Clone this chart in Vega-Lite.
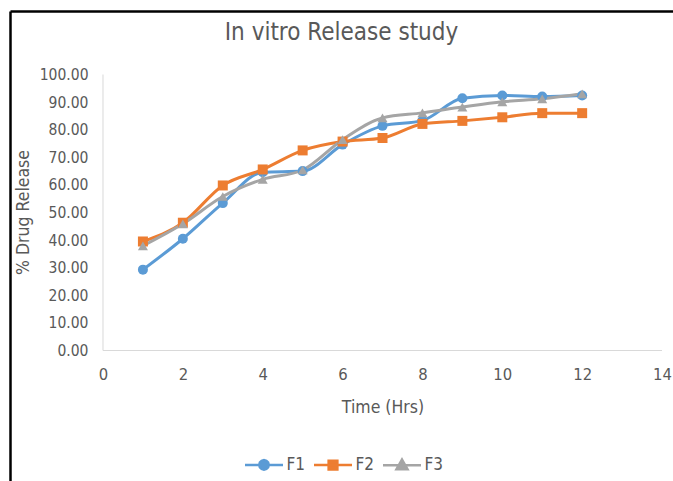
{
  "$schema": "https://vega.github.io/schema/vega-lite/v6.json",
  "width": 663,
  "height": 470,
  "autosize": {"type": "none"},
  "padding": {"left": 10, "top": 11, "right": 0, "bottom": 0},
  "background": "white",
  "config": {
    "view": {"stroke": null},
    "font": "DejaVu Sans Condensed, sans-serif"
  },
  "title": {
    "text": "In vitro Release study",
    "fontSize": 24,
    "fontWeight": "normal",
    "color": "#595959",
    "anchor": "middle",
    "frame": "group",
    "offset": -53,
    "baseline": "alphabetic"
  },
  "layer": [
    {
      "data": {"values": [{}]},
      "mark": {"type": "rule", "color": "#d9d9d9", "strokeWidth": 1},
      "encoding": {
        "x": {
          "datum": 0,
          "type": "quantitative",
          "scale": {"domain": [-2.329, 14.275], "nice": false, "zero": false},
          "axis": {
            "orient": "top",
            "offset": 0,
            "values": [-2.329],
            "domain": true,
            "domainColor": "black",
            "domainWidth": 2.5,
            "ticks": false,
            "labels": false,
            "grid": true,
            "gridColor": "black",
            "gridWidth": 2.5,
            "gridOpacity": 1,
            "title": null
          }
        },
        "x2": {"datum": 14},
        "y": {
          "datum": 0,
          "type": "quantitative",
          "scale": {"domain": [-47.28, 123.01], "nice": false, "zero": false},
          "axis": null
        }
      }
    },
    {
      "data": {"values": [{}]},
      "mark": {"type": "rule", "color": "#d9d9d9", "strokeWidth": 1},
      "encoding": {
        "x": {"datum": 0, "type": "quantitative", "axis": null},
        "y": {"datum": 0, "type": "quantitative", "axis": null},
        "y2": {"datum": 100}
      }
    },
    {
      "data": {"name": "release"},
      "mark": {"type": "line", "interpolate": "monotone", "strokeWidth": 3},
      "encoding": {
        "x": {
          "field": "time",
          "type": "quantitative",
          "axis": {
            "orient": "bottom",
            "offset": -130.5,
            "values": [0, 2, 4, 6, 8, 10, 12, 14],
            "domain": false,
            "ticks": false,
            "tickSize": 0,
            "grid": false,
            "labelPadding": 16,
            "labelFontSize": 16.5,
            "labelColor": "#595959",
            "title": "Time (Hrs)",
            "titleFontSize": 17.5,
            "titleFontWeight": "normal",
            "titleColor": "#595959",
            "titleX": 372.5,
            "titleY": 56.5,
            "titleBaseline": "middle",
            "titleAlign": "center"
          }
        },
        "y": {
          "field": "release",
          "type": "quantitative",
          "axis": {
            "orient": "left",
            "offset": -93,
            "values": [0, 10, 20, 30, 40, 50, 60, 70, 80, 90, 100],
            "format": ".2f",
            "domain": false,
            "ticks": false,
            "tickSize": 0,
            "grid": false,
            "labelPadding": 15,
            "labelFontSize": 15.5,
            "labelColor": "#595959",
            "title": "% Drug Release",
            "titleFontSize": 17.5,
            "titleFontWeight": "normal",
            "titleColor": "#595959",
            "titleX": -80,
            "titleY": 201,
            "titleAngle": -90,
            "titleBaseline": "middle",
            "titleAlign": "center"
          }
        },
        "color": {
          "field": "series",
          "type": "nominal",
          "scale": {"domain": ["F1", "F2", "F3"], "range": ["#5B9BD5", "#ED7D31", "#A5A5A5"]},
          "legend": {
            "title": null,
            "orient": "none",
            "direction": "horizontal",
            "legendX": 233.5,
            "legendY": 433,
            "padding": 0,
            "symbolSize": 1444,
            "labelOffset": 2,
            "columnPadding": 3,
            "labelFontSize": 17,
            "labelColor": "#595959",
            "encode": {
              "symbols": {
                "update": {
                  "shape": {"signal": "datum.value === 'F1' ? 'M-1,0H1M0.25,0L0.217,0.125L0.125,0.217L0,0.25L-0.125,0.217L-0.217,0.125L-0.25,0L-0.217,-0.125L-0.125,-0.217L0,-0.25L0.125,-0.217L0.217,-0.125Z' : datum.value === 'F2' ? 'M-1,0H1M-0.23,-0.23H0.23V0.23H-0.23Z' : 'M-1,0H1M0,-0.29L0.29,0.22L-0.29,0.22Z'"},
                  "fill": {"scale": "color", "field": "value"},
                  "stroke": {"scale": "color", "field": "value"},
                  "strokeWidth": {"value": 2.5},
                  "opacity": {"value": 1},
                  "fillOpacity": {"value": 1},
                  "strokeOpacity": {"value": 1}
                }
              }
            }
          }
        }
      }
    },
    {
      "data": {"name": "release"},
      "transform": [{"filter": "datum.series === 'F1'"}],
      "mark": {"type": "point", "shape": "circle", "filled": true, "size": 100, "opacity": 1},
      "encoding": {
        "x": {"field": "time", "type": "quantitative", "axis": null},
        "y": {"field": "release", "type": "quantitative", "axis": null},
        "color": {"field": "series", "type": "nominal", "legend": null}
      }
    },
    {
      "data": {"name": "release"},
      "transform": [{"filter": "datum.series === 'F2'"}],
      "mark": {"type": "point", "shape": "square", "filled": true, "size": 100, "opacity": 1},
      "encoding": {
        "x": {"field": "time", "type": "quantitative", "axis": null},
        "y": {"field": "release", "type": "quantitative", "axis": null},
        "color": {"field": "series", "type": "nominal", "legend": null}
      }
    },
    {
      "data": {"name": "release"},
      "transform": [{"filter": "datum.series === 'F3'"}],
      "mark": {"type": "point", "shape": "triangle-up", "filled": true, "size": 100, "opacity": 1},
      "encoding": {
        "x": {"field": "time", "type": "quantitative", "axis": null},
        "y": {"field": "release", "type": "quantitative", "axis": null},
        "color": {"field": "series", "type": "nominal", "legend": null}
      }
    }
  ],
  "datasets": {
    "release": [
      {"time": 1, "series": "F1", "release": 29.3},
      {"time": 2, "series": "F1", "release": 40.5},
      {"time": 3, "series": "F1", "release": 53.4},
      {"time": 4, "series": "F1", "release": 64.6},
      {"time": 5, "series": "F1", "release": 65.0},
      {"time": 6, "series": "F1", "release": 74.6},
      {"time": 7, "series": "F1", "release": 81.4},
      {"time": 8, "series": "F1", "release": 83.3},
      {"time": 9, "series": "F1", "release": 91.4},
      {"time": 10, "series": "F1", "release": 92.4},
      {"time": 11, "series": "F1", "release": 92.0},
      {"time": 12, "series": "F1", "release": 92.4},
      {"time": 1, "series": "F2", "release": 39.5},
      {"time": 2, "series": "F2", "release": 46.3},
      {"time": 3, "series": "F2", "release": 59.8},
      {"time": 4, "series": "F2", "release": 65.6},
      {"time": 5, "series": "F2", "release": 72.5},
      {"time": 6, "series": "F2", "release": 75.7},
      {"time": 7, "series": "F2", "release": 77.0},
      {"time": 8, "series": "F2", "release": 82.1},
      {"time": 9, "series": "F2", "release": 83.2},
      {"time": 10, "series": "F2", "release": 84.5},
      {"time": 11, "series": "F2", "release": 86.0},
      {"time": 12, "series": "F2", "release": 86.0},
      {"time": 1, "series": "F3", "release": 37.9},
      {"time": 2, "series": "F3", "release": 45.9},
      {"time": 3, "series": "F3", "release": 55.8},
      {"time": 4, "series": "F3", "release": 62.0},
      {"time": 5, "series": "F3", "release": 65.4},
      {"time": 6, "series": "F3", "release": 76.4},
      {"time": 7, "series": "F3", "release": 84.3},
      {"time": 8, "series": "F3", "release": 86.1},
      {"time": 9, "series": "F3", "release": 88.2},
      {"time": 10, "series": "F3", "release": 90.1},
      {"time": 11, "series": "F3", "release": 91.2},
      {"time": 12, "series": "F3", "release": 93.0}
    ]
  },
  "resolve": {"axis": {"x": "independent", "y": "independent"}}
}
